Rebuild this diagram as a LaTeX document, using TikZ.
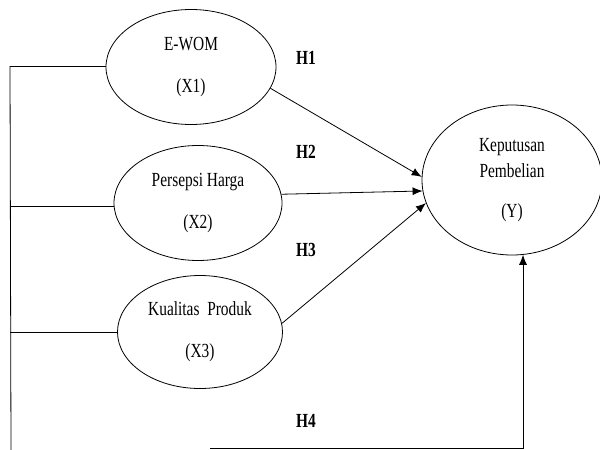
\documentclass[tikz,border=0pt]{standalone}
\usepackage{fontspec}
\usepackage{graphicx}
\setmainfont{Liberation Serif}
\usetikzlibrary{shapes.geometric,arrows.meta}
\newcommand{\nar}[1]{\scalebox{0.77}[1]{#1}}

\begin{document}
\begin{tikzpicture}[x=1pt,y=1pt]
\tikzstyle{every node}+=[inner sep=0pt]
\tikzstyle{var}=[draw, ellipse, thick, align=center, font=\fontsize{20}{24}\selectfont]
\tikzstyle{hyp}=[font=\fontsize{20}{24}\selectfont\bfseries]
\tikzstyle{path}=[thick, -{Latex[length=10pt,width=8pt]}]
\useasboundingbox (0,0) rectangle (600,-450);
\node [var, minimum width=170, minimum height=115] (ewom) at (191,-67) {\nar{E-WOM}\\[18pt]\nar{(X1)}};
\node [var, minimum width=168, minimum height=115] (harga) at (198,-203) {\nar{Persepsi Harga}\\[18pt]\nar{(X2)}};
\node [var, minimum width=165, minimum height=113] (produk) at (200,-332) {\nar{Kualitas\ \ Produk}\\[18pt]\nar{(X3)}};
\node [var, minimum width=180, minimum height=150] (keputusan) at (512,-180) {\nar{Keputusan}\\[2pt]\nar{Pembelian}\\[16pt]\nar{(Y)}};
\draw (306,-58) node [hyp] (h1) {\nar{H1}};
\draw (306,-152) node [hyp] (h2) {\nar{H2}};
\draw (306,-250) node [hyp] (h3) {\nar{H3}};
\draw (306,-421) node [hyp] (h4) {\nar{H4}};
\coordinate (bustop) at (10,-66);
\coordinate (busbot) at (11,-450);
\coordinate (h4start) at (210,-448);
\coordinate (h4corner) at (523,-448);
\draw [thick] (bustop) -- (busbot);
\draw [thick] (bustop) -- (ewom.west |- bustop);
\draw [thick] (10,-206) -- (harga.west |- 10,-206);
\draw [thick] (produk.west -| bustop) -- (produk.west);
\draw [path] (ewom.-15) -- (keputusan.178);
\draw [path] (harga.6) -- (keputusan.187);
\draw [path] (produk.6) -- (keputusan.195);
\draw [path] (h4start) -- (h4corner) -- (h4corner |- keputusan.-81);
\end{tikzpicture}
\end{document}
